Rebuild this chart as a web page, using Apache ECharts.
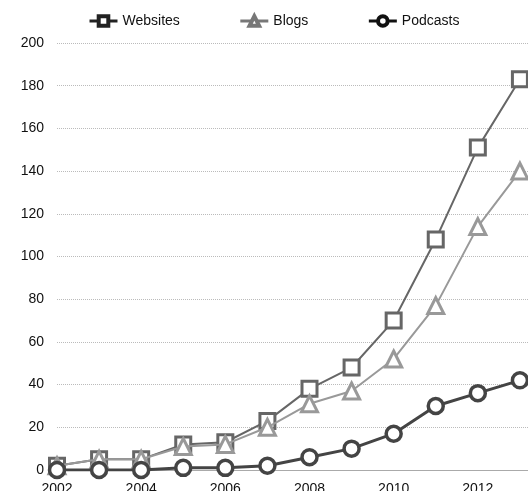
<!DOCTYPE html>
<html><head><meta charset="utf-8">
<script src="https://cdn.jsdelivr.net/npm/echarts@6/dist/echarts.min.js"></script>
<style>html,body{margin:0;padding:0;background:#fff}#c{width:528px;height:491px}</style>
</head><body><div id="c"></div>
<script>
var years = [2002,2003,2004,2005,2006,2007,2008,2009,2010,2011,2012,2013];
var websites = [2,5,5,12,13,23,38,48,70,108,151,183];
var blogs = [2,5,5,11,12,20,31,37,52,77,114,140];
var podcasts = [0,0,0,1,1,2,6,10,17,30,36,42];
var seriesNames = ['Websites','Blogs','Podcasts'];
function pairs(v){return years.map(function(y,i){return [y,v[i]];});}
var chart = echarts.init(document.getElementById('c'));
var font = 'Liberation Sans, Arial, sans-serif';
function leg(name, c){
  return {name:name, itemStyle:{color:'#fff',borderColor:c,borderWidth:4}, lineStyle:{color:c,width:3}};
}
chart.setOption({
  animation:false,
  textStyle:{fontFamily:font},
  legend:{top:9,left:83,itemGap:59,itemWidth:28,itemHeight:12,
    textStyle:{fontSize:14,color:'#111',fontFamily:font},
    data:[leg(seriesNames[0],'#222'),leg(seriesNames[1],'#777'),leg(seriesNames[2],'#111')]},
  grid:{left:57,top:43,width:505,height:427,containLabel:false,outerBoundsMode:'none'},
  xAxis:{type:'value',min:2002,max:2014,interval:2,
    axisLine:{show:true,lineStyle:{color:'#aaa',width:1}},
    axisTick:{show:false},splitLine:{show:false},
    axisLabel:{fontSize:14,color:'#111',margin:12,fontFamily:font,
      formatter:function(v){return String(v);}}},
  yAxis:{type:'value',min:0,max:200,interval:20,
    axisLine:{show:false},axisTick:{show:false},
    splitLine:{lineStyle:{color:'#bbb',type:'dotted',width:1}},
    axisLabel:{fontSize:14,color:'#111',margin:13,fontFamily:font}},
  series:[
    {name:seriesNames[0],type:'line',data:pairs(websites),symbol:'rect',symbolSize:15,
     lineStyle:{color:'#666',width:2},itemStyle:{color:'#fff',borderColor:'#666',borderWidth:3},z:3},
    {name:seriesNames[1],type:'line',data:pairs(blogs),symbol:'triangle',symbolSize:16,
     lineStyle:{color:'#999',width:2},itemStyle:{color:'#fff',borderColor:'#999',borderWidth:3},z:4},
    {name:seriesNames[2],type:'line',data:pairs(podcasts),symbol:'circle',symbolSize:15,
     lineStyle:{color:'#444',width:3},itemStyle:{color:'#fff',borderColor:'#444',borderWidth:3.5},z:5}
  ]
});
</script></body></html>
